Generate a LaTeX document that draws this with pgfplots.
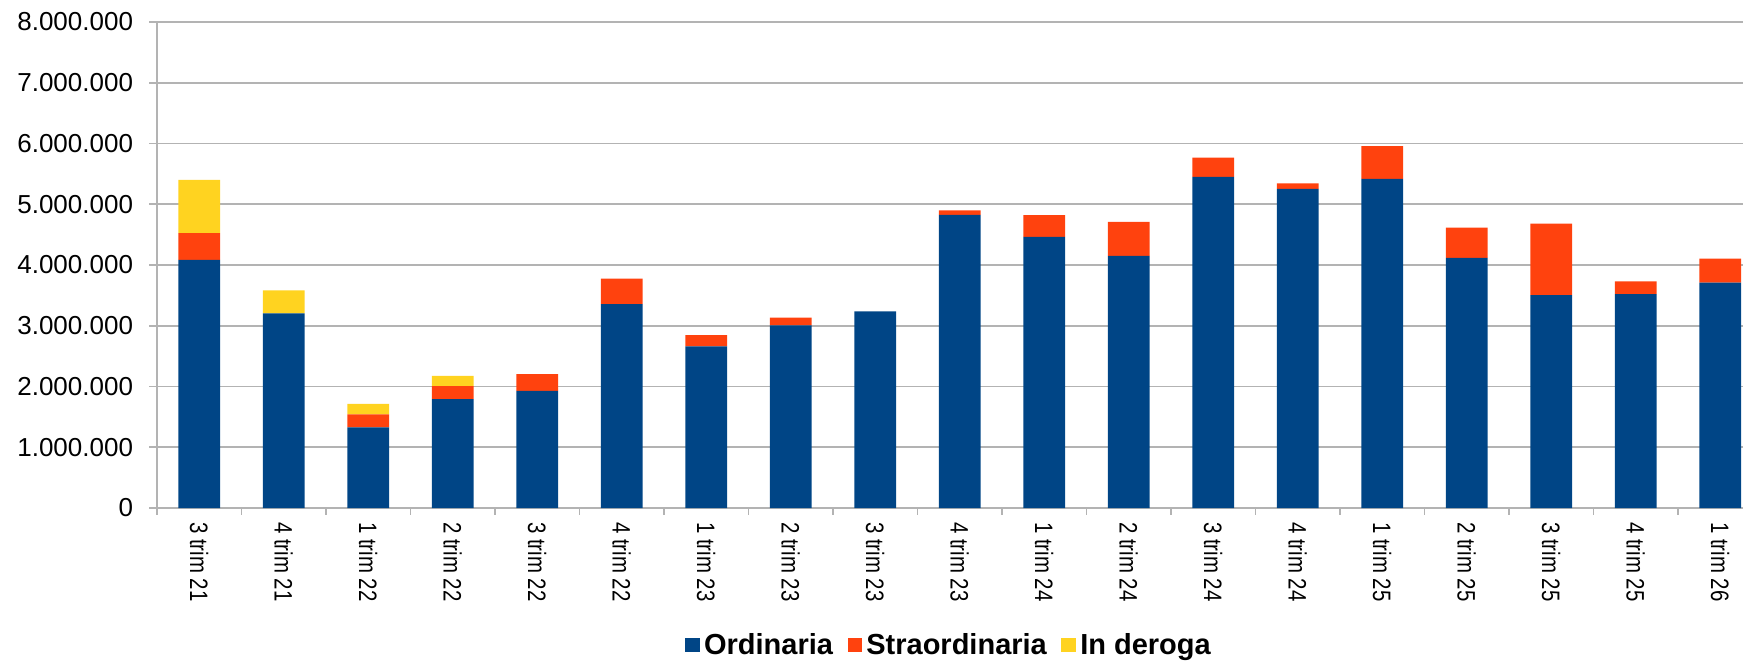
\documentclass[border=0pt]{standalone}
\usepackage{pgfplots}
\pgfplotsset{compat=1.18}
\usepackage{pgfplotstable}
\usepackage{fontspec}
\setmainfont{Liberation Sans}
\newfontfamily\xlabfont[FakeStretch=0.81]{Liberation Sans}
\definecolor{cOrd}{HTML}{004586}
\definecolor{cStr}{HTML}{FF420E}
\definecolor{cDer}{HTML}{FFD320}
\definecolor{cGrid}{HTML}{B3B3B3}
\pgfplotstableread{
x ord str der
0 4084000 440000 876000
1 3202000 0 380000
2 1328000 212000 173000
3 1791000 217000 168000
4 1930000 274000 0
5 3358000 419000 0
6 2661000 184000 0
7 3007000 128000 0
8 3236000 0 0
9 4826000 72000 0
10 4463000 357000 0
11 4151000 558000 0
12 5451000 318000 0
13 5255000 90000 0
14 5417000 541000 0
15 4117000 497000 0
16 3504000 1177000 0
17 3520000 212000 0
18 3710000 396000 0
}\data
\begin{document}
\begin{tikzpicture}
\begin{axis}[
  at={(0,0)}, anchor=south west,
  scale only axis, width=793pt, height=243pt,
  ybar stacked, bar width=20.8pt,
  xmin=-0.5, xmax=18.27, ymin=0, ymax=8000000,
  axis x line*=bottom, axis y line*=left,
  axis line style={-, cGrid, line width=0.9pt},
  ymajorgrids, grid style={cGrid, line width=0.9pt},
  ytick={0,1000000,2000000,3000000,4000000,5000000,6000000,7000000,8000000},
  scaled y ticks=false,
  /pgf/number format/fixed,
  /pgf/number format/1000 sep={.},
  /pgf/number format/assume math mode=true,
  xtick={0,...,18},
  xticklabels={3 trim 21,4 trim 21,1 trim 22,2 trim 22,3 trim 22,4 trim 22,1 trim 23,2 trim 23,3 trim 23,4 trim 23,1 trim 24,2 trim 24,3 trim 24,4 trim 24,1 trim 25,2 trim 25,3 trim 25,4 trim 25,1 trim 26},
  minor xtick={-0.5,0.5,...,18.5},
  tick align=outside,
  major tick length=4pt, minor tick length=3.3pt,
  major x tick style={draw=none},
  ytick style={cGrid, line width=0.9pt},
  minor x tick style={cGrid, line width=0.9pt},
  xticklabel style={rotate=-90, anchor=west, inner sep=0pt, font=\xlabfont\fontsize{12.6}{14}\selectfont},
  xticklabel shift=2.8pt,
  yticklabel style={inner sep=0pt, font=\fontsize{13}{15}\selectfont},
  yticklabel shift=7.8pt,
  legend style={at={(0.5,-0.282)}, anchor=center, legend columns=-1, draw=none,
    inner sep=0pt,
    font=\bfseries\fontsize{14.5}{17}\selectfont,
    /tikz/every even column/.append style={column sep=5.3pt}},
]
\addplot[fill=cOrd, draw=none, legend image code/.code={\fill[cOrd] (0pt,-3.7pt) rectangle (7.4pt,3.7pt);}] table[x=x, y=ord] {\data};
\addplot[fill=cStr, draw=none, legend image code/.code={\fill[cStr] (0pt,-3.7pt) rectangle (7.4pt,3.7pt);}] table[x=x, y=str] {\data};
\addplot[fill=cDer, draw=none, legend image code/.code={\fill[cDer] (0pt,-3.7pt) rectangle (7.4pt,3.7pt);}] table[x=x, y=der] {\data};
\legend{Ordinaria,Straordinaria,In deroga}
\end{axis}
\pgfresetboundingbox
\useasboundingbox (-78.5pt,-76pt) rectangle (793pt,254pt);
\end{tikzpicture}
\end{document}
